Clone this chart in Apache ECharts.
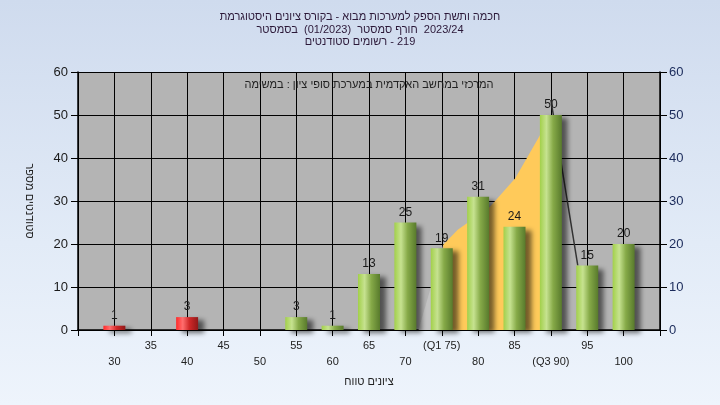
<!DOCTYPE html>
<html>
<head>
<meta charset="utf-8">
<script src="https://cdn.jsdelivr.net/npm/echarts@6/dist/echarts.min.js"></script>
<style>
html,body{margin:0;padding:0;}
#c{width:720px;height:405px;background:linear-gradient(180deg,#cfdbee 0%,#e2ebf7 60%,#eef4fc 100%);}
</style>
</head>
<body>
<div id="c"></div>
<script>
// ---- data ----
const grades = [30, 35, 40, 45, 50, 55, 60, 65, 70, 75, 80, 85, 90, 95, 100];
const counts = [1, 0, 3, 0, 0, 3, 1, 13, 25, 19, 31, 24, 50, 15, 20];
const passGrade = 55;
const q1 = 75;
const q3 = 90;
const yTicks = [0, 10, 20, 30, 40, 50, 60];
const wedgeX = [71.8, 75.2];
const wedgeY = [0, 19.8];
const bandX = [75.2, 76.5, 77.2, 81.6, 85.1, 88.5, 90];
const bandY = [19.8, 22.1, 23.3, 28.6, 35.3, 45.3, 50];
const dropX = [90, 93.7];
const dropY = [53.5, 15];

const titleLines = [
  'היסטוגרמת ציונים בקורס - מבוא למערכות הספק ותשת חכמה',
  'בסמסטר  (01/2023)  סמסטר חורף  2023/24',
  'סטודנטים רשומים - 219'
];
const subTitle = 'במשימה : ציון סופי במערכת האקדמית במחשב המרכזי';
const xName = 'טווח ציונים';
const yName = 'מספר סטודנטים';

// the reference lays the words out left-to-right (each word right-to-left):
// left-to-right marks between words keep that layout
const vis = s => '\u200E' + s.split(' ').join('\u200E \u200E') + '\u200E';

const FONT = '"Liberation Sans", Arial, sans-serif';

const greenGrad = new echarts.graphic.LinearGradient(0, 0, 1, 0, [
  {offset: 0, color: '#a2d04a'},
  {offset: 0.3, color: '#c6e290'},
  {offset: 0.6, color: '#86aa48'},
  {offset: 1, color: '#587a2c'}
]);
const redGrad = new echarts.graphic.LinearGradient(0, 0, 1, 0, [
  {offset: 0, color: '#ff2a2a'},
  {offset: 0.3, color: '#ff6e6e'},
  {offset: 0.6, color: '#d02828'},
  {offset: 1, color: '#901818'}
]);

const barData = [];
grades.forEach((g, i) => {
  if (counts[i] > 0) {
    barData.push({
      value: [g, counts[i]],
      itemStyle: {color: g < passGrade ? redGrad : greenGrad}
    });
  }
});
const zip = (xs, ys) => xs.map((x, i) => [x, ys[i]]);

const xMin = grades[0] - 5, xMax = grades[grades.length - 1] + 5;

const chart = echarts.init(document.getElementById('c'), null, {renderer: 'canvas'});
chart.setOption({
  backgroundColor: 'transparent',
  animation: false,
  textStyle: {fontFamily: FONT},
  title: [
    {
      text: titleLines.map(vis).join('\n'),
      left: 'center', top: 11, padding: 0,
      textStyle: {fontSize: 11, fontWeight: 'normal', color: '#2b1838', lineHeight: 12.5, fontFamily: FONT}
    },
    {
      text: vis(subTitle),
      left: 369, textAlign: 'center', top: 79, padding: 0,
      textStyle: {fontSize: 11, fontWeight: 'normal', color: '#222', lineHeight: 12, fontFamily: FONT}
    }
  ],
  grid: {left: 78, right: 60, top: 72, bottom: 75, show: true, backgroundColor: '#b4b4b4', borderWidth: 0},
  xAxis: {
    type: 'value', min: xMin, max: xMax, interval: 5,
    name: vis(xName), nameLocation: 'middle', nameGap: 46,
    nameTextStyle: {fontSize: 11, color: '#222', fontFamily: FONT},
    axisLine: {show: true, lineStyle: {color: '#000', width: 1.5}},
    axisTick: {show: true, length: 6, lineStyle: {color: '#000', width: 1}},
    splitLine: {show: true, lineStyle: {color: '#000', width: 1}},
    axisLabel: {
      fontSize: 11, color: '#222', margin: 8, lineHeight: 16, fontFamily: FONT,
      formatter: v => {
        if (v <= xMin || v >= xMax) return '';
        let t = String(v);
        if (v === q1) t = '(Q1 ' + v + ')';
        if (v === q3) t = '(Q3 ' + v + ')';
        return (Math.round(v / 5) % 2 === 0) ? '\n' + t : t;
      }
    }
  },
  yAxis: [
    {
      type: 'value', min: yTicks[0], max: yTicks[yTicks.length - 1], interval: yTicks[1] - yTicks[0],
      position: 'left',
      name: vis(yName), nameLocation: 'middle', nameGap: 43, nameRotate: -90,
      nameTextStyle: {fontSize: 11, color: '#222', fontFamily: FONT},
      axisLine: {show: true, lineStyle: {color: '#000', width: 1.5}},
      axisTick: {show: true, length: 7, lineStyle: {color: '#000'}},
      splitLine: {show: true, lineStyle: {color: '#000', width: 1.2}},
      axisLabel: {fontSize: 13, color: '#1a1a1a', margin: 10, fontFamily: FONT}
    },
    {
      type: 'value', min: yTicks[0], max: yTicks[yTicks.length - 1], interval: yTicks[1] - yTicks[0],
      position: 'right',
      axisLine: {show: true, lineStyle: {color: '#000', width: 1.5}},
      axisTick: {show: true, length: 7, lineStyle: {color: '#000'}},
      splitLine: {show: false},
      axisLabel: {fontSize: 13, color: '#1a2a5a', margin: 9, fontFamily: FONT}
    }
  ],
  series: [
    {
      type: 'line', z: 1, data: zip(wedgeX, wedgeY), showSymbol: false, silent: true,
      lineStyle: {width: 0}, areaStyle: {color: '#c3c3c3', opacity: 1}
    },
    {
      type: 'line', z: 1, data: zip(bandX, bandY), showSymbol: false, silent: true,
      lineStyle: {width: 0}, areaStyle: {color: '#ffca5a', opacity: 1}
    },
    {
      type: 'line', z: 1, data: zip(dropX, dropY), showSymbol: false, silent: true,
      lineStyle: {width: 1.5, color: '#333'}
    },
    {
      type: 'bar', z: 10, data: barData, barWidth: 22,
      itemStyle: {shadowBlur: 5, shadowOffsetX: 6, shadowOffsetY: 3, shadowColor: 'rgba(0,0,0,0.55)'},
      label: {show: true, position: 'top', distance: 4, fontSize: 12, color: '#1a1a1a', fontFamily: FONT}
    }
  ]
});
</script>
</body>
</html>
